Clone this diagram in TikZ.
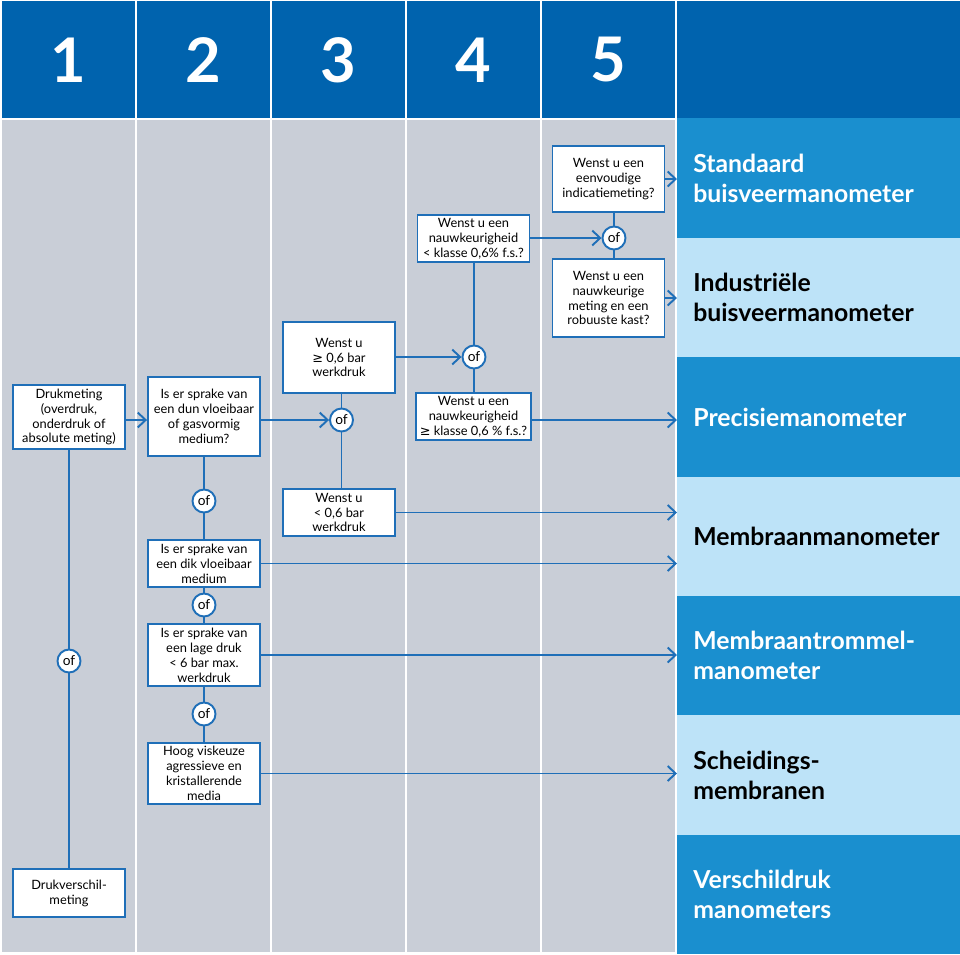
\documentclass[tikz,border=0pt]{standalone}
\usepackage{fontspec}
\setmainfont{Lato}
\newfontfamily\sym{DejaVu Sans}
\usetikzlibrary{arrows.meta}
\definecolor{dark}{HTML}{0063AE}
\definecolor{mid}{HTML}{1A8FCF}
\definecolor{pale}{HTML}{BDE3F8}
\definecolor{grey}{HTML}{C9CED7}
\definecolor{wire}{HTML}{1F6FB8}

\begin{document}
\begin{tikzpicture}[x=0.02cm, y=-0.02cm,
  question/.style={draw=wire, line width=1.1pt, fill=white, minimum width=2.24cm,
    inner sep=2pt, align=center, font=\fontsize{7.3}{8.5}\selectfont},
  orbox/.style={draw=wire, line width=1.1pt, fill=white, circle, minimum size=0.46cm,
    inner sep=0pt, font=\fontsize{7.8}{9}\selectfont},
  result/.style={anchor=north west, minimum width=5.66cm, minimum height=2.389cm,
    text width=5.02cm, inner xsep=0.32cm, inner ysep=0pt, align=left,
    font=\fontsize{14.1}{17}\selectfont\bfseries},
  link/.style={wire, line width=1.1pt},
  arrow/.style={link, -{Straight Barb[length=4.5pt,width=8.5pt]}}]
\useasboundingbox (0,0) rectangle (960,954);
% columns and header
\foreach \n [count=\i from 0] in {1,...,5} {
  \fill[dark] (2+135*\i,1) rectangle (135+135*\i,118);
  \fill[grey] (2+135*\i,120) rectangle (135+135*\i,952);
  \node[white, font=\fontsize{35}{35}\selectfont\bfseries] (num\n) at (68.5+135*\i,60) {\n};
}
\fill[dark] (677,1) rectangle (960,118);
% results
\node[result, fill=mid, text=white] (res1) at (677,118) {Standaard\\buisveermanometer};
\node[result, fill=pale] (res2) at (677,237.4) {Industriële\\buisveermanometer};
\node[result, fill=mid, text=white] (res3) at (677,356.9) {Precisiemanometer};
\node[result, fill=pale] (res4) at (677,476.3) {Membraanmanometer};
\node[result, fill=mid, text=white] (res5) at (677,595.7) {Membraantrommel-\\manometer};
\node[result, fill=pale] (res6) at (677,715.1) {Scheidings-\\membranen};
\node[result, fill=mid, text=white] (res7) at (677,834.6) {Verschildruk\\manometers};
% questions
\node[question] (meas) at (69,417) {Drukmeting\\(overdruk,\\onderdruk of\\absolute meting)};
\node[question, minimum height=0.96cm] (diff) at (69,893) {Drukverschil-\\meting};
\node[orbox] (or1) at (69,661) {of};
\node[question, minimum height=1.58cm] (thin) at (204,416.5) {Is er sprake van\\een dun vloeibaar\\of gasvormig\\medium?};
\node[question] (thick) at (204,563.5) {Is er sprake van\\een dik vloeibaar\\medium};
\node[question] (lowp) at (204,655) {Is er sprake van\\een lage druk\\< 6 bar max.\\werkdruk};
\node[question] (visc) at (204,773.5) {Hoog viskeuze\\agressieve en\\kristallerende\\media};
\node[orbox] (or2a) at (204,501) {of};
\node[orbox] (or2b) at (204,605) {of};
\node[orbox] (or2c) at (204,714) {of};
\node[question, minimum height=1.42cm] (high) at (339,357.5) {Wenst u\\{\sym ≥} 0,6 bar\\werkdruk};
\node[question] (low) at (339,512.5) {Wenst u\\< 0,6 bar\\werkdruk};
\node[orbox] (or3) at (341.5,420) {of};
\node[question] (fine) at (473.5,238.5) {Wenst u een\\nauwkeurigheid\\< klasse 0,6\% f.s.?};
\node[question] (prec) at (473.5,416.5) {Wenst u een\\nauwkeurigheid\\{\sym ≥} klasse 0,6 \% f.s.?};
\node[orbox] (or4) at (474,357) {of};
\node[question, minimum height=1.32cm] (simple) at (608.5,179) {Wenst u een\\eenvoudige\\indicatiemeting?};
\node[question, minimum height=1.56cm] (robust) at (608.5,298) {Wenst u een\\nauwkeurige\\meting en een\\robuuste kast?};
\node[orbox] (or5) at (614,238) {of};
% connectors
\draw[link] (meas) -- (or1) -- (diff);
\draw[arrow] (meas.east |- or3) -- (thin.west |- or3);
\draw[link] (thin) -- (or2a) -- (thick) -- (or2b) -- (lowp) -- (or2c) -- (visc);
\draw[arrow] (thin.east |- or3) -- (or3.west);
\draw[link] (or3.north |- high.south) -- (or3.north);
\draw[link] (or3.south) -- (or3.south |- low.north);
\draw[arrow] (high.east |- or4) -- (or4.west);
\draw[link] (or4.north |- fine.south) -- (or4.north);
\draw[link] (or4.south) -- (or4.south |- prec.north);
\draw[arrow] (fine.east |- or5) -- (or5.west);
\draw[link] (or5.north |- simple.south) -- (or5.north);
\draw[link] (or5.south) -- (or5.south |- robust.north);
\draw[arrow] (simple.east) -- (simple.east -| res1.west);
\draw[arrow] (robust.east) -- (robust.east -| res2.west);
\draw[arrow] (prec.east |- or3) -- (res3.west |- or3);
\draw[arrow] (low.east) -- (low.east -| res4.west);
\draw[arrow] (thick.east) -- (thick.east -| res4.west);
\draw[arrow] (lowp.east) -- (lowp.east -| res5.west);
\draw[arrow] (visc.east) -- (visc.east -| res6.west);
\end{tikzpicture}
\end{document}
